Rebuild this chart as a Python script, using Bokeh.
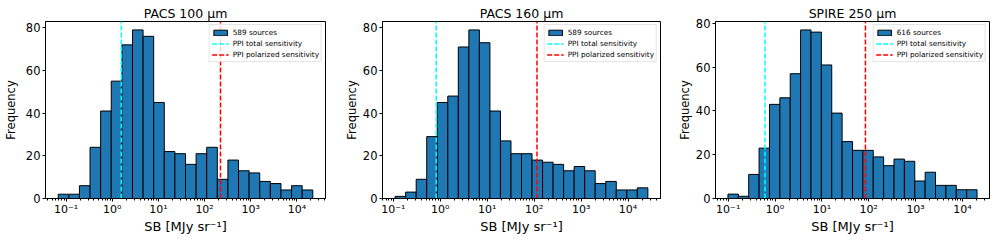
import numpy as np
from bokeh.plotting import figure
from bokeh.layouts import row
from bokeh.models import FixedTicker, Range1d
from bokeh.embed import file_html
from bokeh.resources import INLINE

# ---------------- data ----------------
panel_titles = ["PACS 100 μm", "PACS 160 μm", "SPIRE 250 μm"]
counts_pacs100 = [2, 2, 6, 24, 41, 55, 72, 79, 76, 45, 22, 21, 16, 21, 24, 9, 18, 13, 12, 8, 7, 4, 6, 4]
counts_pacs160 = [1, 3, 9, 29, 45, 48, 71, 79, 73, 41, 27, 21, 21, 18, 17, 16, 13, 15, 13, 7, 8, 4, 4, 5]
counts_spire250 = [2, 1, 11, 23, 43, 46, 57, 77, 76, 61, 39, 26, 22, 22, 19, 15, 18, 17, 8, 12, 6, 6, 4, 4]
log10_sb_min = [-1.171, -0.961, -1.005]   # first histogram edge, log10(MJy/sr)
log10_sb_max = [4.344, 4.422, 4.312]      # last histogram edge, log10(MJy/sr)
source_counts = [589, 589, 616]
ppi_total_sensitivity = [1.57, 0.82, 0.61]
ppi_polarized_sensitivity = [221.0, 115.0, 85.0]
x_tick_values = [0.1, 1.0, 10.0, 100.0, 1000.0, 10000.0]
x_tick_labels = ["10⁻¹", "10⁰", "10¹", "10²", "10³", "10⁴"]
y_tick_values = [0, 20, 40, 60, 80]
x_label = "SB [MJy sr⁻¹]"
y_label = "Frequency"
legend_total = "PPI total sensitivity"
legend_pol = "PPI polarized sensitivity"

# ---------------- style ----------------
FONT = "DejaVu Sans"
all_counts = [counts_pacs100, counts_pacs160, counts_spire250]
fig_widths = [341, 333, 316]
borders = [(41, 16), (35, 14), (35, 1)]
ylabel_standoff = [5, 1, 1]
minor_ticks = [k * 10.0 ** d for d in range(-2, 6) for k in range(2, 10)]

figs = []
for i in range(3):
    counts = np.array(all_counts[i], dtype=float)
    lo, hi = log10_sb_min[i], log10_sb_max[i]
    edges = np.logspace(lo, hi, len(counts) + 1)
    pad = 0.05 * (hi - lo)
    ytop = counts.max() * 1.05
    bl, br = borders[i]
    p = figure(x_axis_type="log",
               x_range=Range1d(10 ** (lo - pad), 10 ** (hi + pad)),
               y_range=Range1d(0, ytop),
               width=fig_widths[i], height=236,
               min_border_left=bl, min_border_right=br,
               min_border_top=21, min_border_bottom=33,
               output_backend="svg", toolbar_location=None,
               title=panel_titles[i])
    p.quad(left=edges[:-1], right=edges[1:], bottom=0, top=counts,
           fill_color="#1f77b4", line_color="black", line_width=1,
           legend_label=f"{source_counts[i]} sources")
    p.segment(x0=[ppi_total_sensitivity[i]], y0=[0],
              x1=[ppi_total_sensitivity[i]], y1=[ytop],
              line_color="#00ffff", line_dash="5 2", line_width=1.5,
              legend_label=legend_total)
    p.segment(x0=[ppi_polarized_sensitivity[i]], y0=[0],
              x1=[ppi_polarized_sensitivity[i]], y1=[ytop],
              line_color="#ff0000", line_dash="5 2", line_width=1.5,
              legend_label=legend_pol)

    p.title.align = "center"
    p.title.text_font = FONT
    p.title.text_font_size = "12.5px"
    p.title.text_font_style = "normal"
    p.title.text_color = "black"
    p.title.standoff = 2

    p.xgrid.visible = False
    p.ygrid.visible = False
    p.outline_line_color = "black"
    p.outline_line_width = 1
    p.outline_line_alpha = 1

    p.xaxis.ticker = FixedTicker(ticks=x_tick_values, minor_ticks=minor_ticks)
    p.xaxis.major_label_overrides = {v: lab for v, lab in zip(x_tick_values, x_tick_labels)}
    p.yaxis.ticker = FixedTicker(ticks=y_tick_values)
    p.xaxis.axis_label = x_label
    p.yaxis.axis_label = y_label
    for ax, is_x in ((p.xaxis[0], True), (p.yaxis[0], False)):
        ax.axis_line_color = "black"
        ax.major_tick_line_color = "black"
        ax.minor_tick_line_color = "black" if is_x else None
        ax.major_tick_in = 0
        ax.major_tick_out = 3
        ax.minor_tick_in = 0
        ax.minor_tick_out = 2
        ax.major_label_text_font = FONT
        ax.major_label_text_font_size = "11px" if is_x else "11.5px"
        ax.major_label_text_color = "black"
        ax.major_label_standoff = 1 if is_x else 2
        ax.axis_label_text_font = FONT
        ax.axis_label_text_font_size = "13px" if is_x else "11.5px"
        ax.axis_label_text_font_style = "normal"
        ax.axis_label_text_color = "black"
        ax.axis_label_standoff = 0 if is_x else ylabel_standoff[i]

    lg = p.legend[0]
    lg.location = "top_right"
    lg.margin = 3
    lg.padding = 2
    lg.spacing = 1
    lg.glyph_width = 17
    lg.glyph_height = 7
    lg.label_height = 10
    lg.label_standoff = 4
    lg.label_text_font = FONT
    lg.label_text_font_size = "7.3px"
    lg.label_text_color = "black"
    lg.border_line_color = "#cccccc"
    lg.border_line_width = 1
    lg.background_fill_alpha = 0.8
    figs.append(p)

layout = row(*figs, spacing=0)
open("out.html", "w").write(file_html(layout, INLINE))
